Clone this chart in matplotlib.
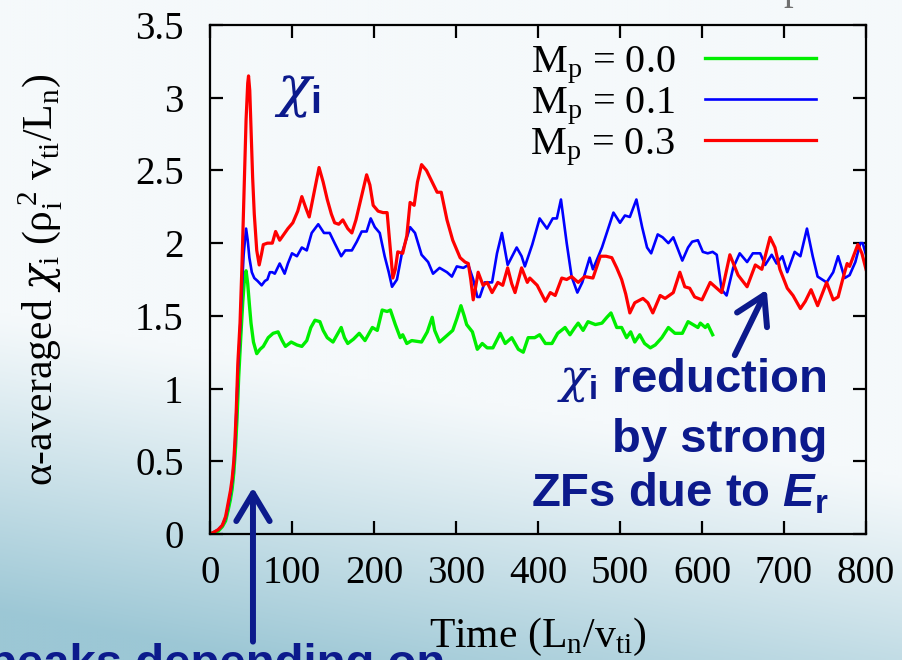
import numpy as np
import matplotlib
matplotlib.use("Agg")
import matplotlib.pyplot as plt
from matplotlib.colors import to_rgb

plt.rcParams['font.family'] = ['Liberation Serif', 'DejaVu Serif']
plt.rcParams['mathtext.fontset'] = 'custom'
plt.rcParams['mathtext.rm'] = 'Liberation Serif'
plt.rcParams['mathtext.it'] = 'DejaVu Serif:italic'
plt.rcParams['mathtext.sf'] = 'Liberation Sans:bold'
plt.rcParams['mathtext.bf'] = 'Liberation Sans:bold:italic'

# ---- data: alpha-averaged chi_i time traces ----
t_m00 = [0, 4, 10, 15, 19, 22, 25, 27, 29, 31, 33, 35, 37.5, 40, 42, 44, 46, 48, 50, 53, 57,
         61, 65, 71, 77, 83, 88, 92, 99, 106, 112, 118, 123, 128, 134, 138, 143, 150, 155,
         160, 164, 168, 175, 182, 189, 198, 204, 210, 216, 220, 226, 232, 235, 240, 246,
         258, 265, 271, 274, 280, 290, 296, 301, 306, 310, 313, 320, 326, 332, 338, 345,
         354, 360, 368, 376, 382, 388, 396, 402, 409, 417, 424, 433, 439, 445, 449, 455,
         461, 470, 478, 484, 489, 496, 502, 508, 513, 518, 524, 530, 537, 543, 551, 559,
         567, 576, 583, 589, 595, 598, 604, 607, 613]
chi_m00 = [0, 0.01, 0.02, 0.05, 0.09, 0.16, 0.24, 0.31, 0.42, 0.58, 0.8, 1.08, 1.35, 1.6, 1.75,
           1.81, 1.72, 1.58, 1.45, 1.32, 1.24,
           1.27, 1.29, 1.35, 1.38, 1.39, 1.33, 1.29, 1.32, 1.30, 1.29, 1.33, 1.42, 1.47, 1.46,
           1.40, 1.35, 1.32, 1.37, 1.42, 1.35, 1.31, 1.34, 1.38, 1.33, 1.42, 1.40, 1.54, 1.53,
           1.54, 1.44, 1.35, 1.37, 1.31, 1.33, 1.32, 1.39, 1.49, 1.40, 1.32, 1.37, 1.40, 1.48,
           1.57, 1.50, 1.44, 1.39, 1.27, 1.31, 1.28, 1.28, 1.38, 1.31, 1.35, 1.27, 1.25, 1.35,
           1.35, 1.37, 1.31, 1.31, 1.38, 1.42, 1.37, 1.42, 1.45, 1.40, 1.46, 1.44, 1.45, 1.49,
           1.52, 1.42, 1.42, 1.35, 1.39, 1.32, 1.37, 1.31, 1.28, 1.30, 1.35, 1.42, 1.38, 1.38,
           1.46, 1.44, 1.42, 1.45, 1.42, 1.44, 1.37]

t_m01 = [0, 4, 10, 15, 19, 22, 25, 27, 29, 30.5, 32, 34, 36.6, 39, 41, 44, 46, 48, 51, 54, 58,
         63, 67, 70, 73, 76, 79, 85, 91, 95, 100, 106, 112, 118, 124, 132, 139, 146, 152, 160,
         165, 173, 179, 185, 191, 196, 201, 204, 207, 213, 218, 222, 228, 234, 244, 250, 258,
         266, 272, 280, 289, 295, 301, 309, 315, 321, 326, 329, 335, 344, 350, 356, 363, 374,
         380, 384, 393, 402, 411, 418, 423, 428, 435, 441, 448, 454, 463, 467, 478, 492, 500,
         506, 512, 520, 527, 533, 538, 546, 552, 559, 565, 576, 583, 588, 595, 601, 607, 613,
         618, 624, 630, 638, 646, 655, 662, 671, 677, 685, 691, 698, 704, 713, 720, 728, 735,
         741, 752, 760, 766, 774, 780, 787, 793, 796, 800]
chi_m01 = [0, 0.01, 0.03, 0.06, 0.11, 0.19, 0.28, 0.36, 0.48, 0.62, 0.82, 1.12, 1.4, 1.7, 1.92,
           2.10, 2.02, 1.90, 1.80, 1.76, 1.74,
           1.71, 1.74, 1.75, 1.80, 1.80, 1.79, 1.86, 1.79, 1.86, 1.93, 1.91, 1.97, 1.95, 2.07,
           2.13, 2.07, 2.07, 2.00, 1.91, 1.95, 1.95, 2.01, 2.08, 2.08, 2.17, 2.11, 2.09, 2.07,
           1.91, 1.80, 1.70, 1.75, 1.93, 2.11, 2.07, 1.92, 1.87, 1.79, 1.83, 1.80, 1.77, 1.84,
           1.83, 1.85, 1.75, 1.63, 1.63, 1.73, 1.73, 1.93, 2.07, 1.85, 1.97, 1.91, 1.84, 1.99,
           2.17, 2.10, 2.17, 2.17, 2.30, 2.00, 1.77, 1.66, 1.73, 1.90, 1.82, 1.97, 2.21, 2.14,
           2.19, 2.18, 2.30, 2.11, 1.97, 1.93, 2.06, 2.04, 2.00, 2.04, 1.88, 1.97, 2.01, 2.02,
           1.94, 1.93, 1.94, 1.92, 1.68, 1.64, 1.83, 1.93, 1.87, 1.93, 1.93, 1.85, 1.92, 1.86,
           1.91, 1.80, 1.94, 1.91, 2.10, 1.91, 1.77, 1.73, 1.80, 1.91, 1.76, 1.78, 1.87, 2.00,
           2.00, 1.92]

t_m03 = [0, 4, 10, 15, 19, 22, 25, 27, 29, 30.5, 32, 34, 36.6, 39, 41, 44, 46, 47, 48.5, 50, 52,
         54, 57, 60, 63, 65, 70, 76, 80, 85, 90, 95, 101, 107, 112, 117, 121, 127, 133, 138, 143,
         148, 152, 157, 162, 168, 173, 178, 183, 191, 195, 199, 205, 211, 216, 220, 223, 226,
         229, 235, 240, 244, 249, 253, 258, 264, 271, 277, 282, 289, 296, 305, 311, 315, 318,
         321, 324, 327, 333, 338, 344, 351, 357, 363, 368, 372, 380, 387, 390, 399, 409, 415,
         421, 429, 435, 441, 449, 457, 467, 476, 483, 490, 496, 502, 507, 512, 518, 528, 534,
         540, 549, 555, 565, 573, 579, 585, 591, 600, 610, 620, 624, 634, 644, 655, 665, 673,
         683, 689, 695, 704, 711, 720, 726, 733, 741, 752, 760, 766, 772, 777, 780, 790, 795, 800]
chi_m03 = [0, 0.01, 0.03, 0.06, 0.12, 0.21, 0.30, 0.38, 0.50, 0.65, 0.85, 1.18, 1.45, 1.85, 2.25,
           2.85, 3.10, 3.15, 3.05, 2.80, 2.45, 2.20, 1.95, 1.85, 1.93, 1.99, 2.00, 2.00, 2.08,
           2.02, 2.06, 2.10, 2.14, 2.22, 2.32, 2.24, 2.18, 2.35, 2.52, 2.42, 2.30, 2.20, 2.14,
           2.13, 2.16, 2.10, 2.07, 2.16, 2.28, 2.47, 2.40, 2.26, 2.22, 2.21, 2.21, 1.95, 1.76,
           1.82, 1.94, 1.93, 2.05, 2.28, 2.26, 2.42, 2.54, 2.50, 2.42, 2.35, 2.35, 2.16, 2.02,
           1.90, 1.87, 1.86, 1.75, 1.61, 1.70, 1.80, 1.71, 1.73, 1.66, 1.73, 1.71, 1.83, 1.72,
           1.66, 1.83, 1.73, 1.76, 1.71, 1.60, 1.66, 1.64, 1.76, 1.75, 1.77, 1.73, 1.77, 1.76,
           1.91, 1.91, 1.90, 1.83, 1.75, 1.65, 1.52, 1.59, 1.62, 1.59, 1.52, 1.64, 1.62, 1.66,
           1.80, 1.70, 1.69, 1.63, 1.61, 1.73, 1.68, 1.66, 1.92, 1.78, 1.70, 1.85, 1.82, 2.04,
           1.97, 1.82, 1.69, 1.64, 1.55, 1.60, 1.68, 1.57, 1.73, 1.61, 1.63, 1.76, 1.86, 1.84,
           1.99, 1.93, 1.82]

labels = [r'$\mathrm{M_p}$ = 0.0', r'$\mathrm{M_p}$ = 0.1', r'$\mathrm{M_p}$ = 0.3']
colors = ['#00ee00', '#0000ff', '#ff0000']
widths = [2.4, 1.9, 2.3]
xticks = [0, 100, 200, 300, 400, 500, 600, 700, 800]
yticks = [0, 0.5, 1, 1.5, 2, 2.5, 3, 3.5]
ytick_labels = ['0', '0.5', '1', '1.5', '2', '2.5', '3', '3.5']

navy = '#0c1a8c'
W, H = 903, 660

fig = plt.figure(figsize=(W / 100, H / 100), dpi=100)

# slide background: pale, turning blue-teal toward the lower left
bg = fig.add_axes([0, 0, 1, 1], zorder=-10)
ny, nx = 220, 300
u = np.linspace(0, 1, nx)[None, :]
v = np.linspace(1, 0, ny)[:, None]
w = np.clip(1.15 - 2.2 * v - 0.55 * u, 0, 1) ** 1.1
light = np.array(to_rgb('#f5f9fb'))
dark = np.array(to_rgb('#9cc7d5'))
img = light[None, None, :] * (1 - w[..., None]) + dark[None, None, :] * w[..., None]
bg.imshow(img, extent=[0, 1, 0, 1], aspect='auto', interpolation='bilinear')
bg.axis('off')

ax = fig.add_axes([210 / W, 1 - 534 / H, 656 / W, 509 / H])
ax.patch.set_alpha(0)

series = [(t_m00, chi_m00), (t_m01, chi_m01), (t_m03, chi_m03)]
lines = []
for (tt, cc), lab, col, lw in zip(series, labels, colors, widths):
    ln, = ax.plot(tt, cc, color=col, lw=lw, label=lab, solid_joinstyle='round')
    lines.append(ln)

ax.set_xlim(0, 800)
ax.set_ylim(0, 3.5)
ax.set_xticks(xticks)
ax.set_yticks(yticks)
ax.set_yticklabels(ytick_labels)
ax.tick_params(direction='in', length=9.5, width=1.6, labelsize=28,
               top=True, right=True, color='black')
ax.tick_params(axis='x', pad=15)
ax.tick_params(axis='y', pad=19)
for s in ax.spines.values():
    s.set_linewidth(1.6)

ax.set_xlabel(r'Time (L$_\mathrm{n}$/v$_\mathrm{ti}$)', fontsize=30)
ax.xaxis.set_label_coords(0.5, -0.160)
ax.set_ylabel(r'$\mathrm{\alpha}$-averaged $\chi_\mathrm{i}$ ($\mathrm{\rho_i^{\,2}}$ v$_\mathrm{ti}$/L$_\mathrm{n}$)',
              fontsize=30)
ax.yaxis.set_label_coords(-0.222, 0.5)

leg = ax.legend(handles=lines, loc='upper right', bbox_to_anchor=(0.924, 0.963),
                markerfirst=False, frameon=False, fontsize=29, handlelength=2.75,
                handletextpad=0.75, labelspacing=-0.02, borderpad=0, borderaxespad=0)

# annotations
ax.text(78, 2.95, r'$\chi_\mathsf{i}$', fontsize=40, color=navy, ha='left', va='baseline')

ann_kw = dict(fontsize=34, color=navy, family='Liberation Sans', fontweight='bold',
              ha='right', va='baseline')
ax.text(752, 0.977, r'$\chi_\mathsf{i}$ reduction', **ann_kw)
ax.text(753, 0.564, 'by strong', **ann_kw)
ax.text(755, 0.186, r'ZFs due to $\mathbf{E}_\mathsf{r}$', **ann_kw)

arrow_kw = dict(arrowstyle='->,head_length=1.0,head_width=0.6', color=navy, lw=4.3,
                shrinkA=0, shrinkB=0, mutation_scale=20)
ax.annotate('', xy=(52.4, 0.32), xytext=(52.4, -0.74), arrowprops=arrow_kw,
            annotation_clip=False)
ax.annotate('', xy=(679, 1.68), xytext=(640, 1.23), arrowprops=arrow_kw,
            annotation_clip=False)

fig.text(-12 / W, (H - 677) / H, 'peaks depending on', fontsize=34, color=navy,
         family='Liberation Sans', fontweight='bold', ha='left', va='baseline')
fig.text(783 / W, 1 + 1 / H, 'p', fontsize=28, color='#707070', ha='left', va='baseline')

fig.savefig('out.png', dpi=100)
